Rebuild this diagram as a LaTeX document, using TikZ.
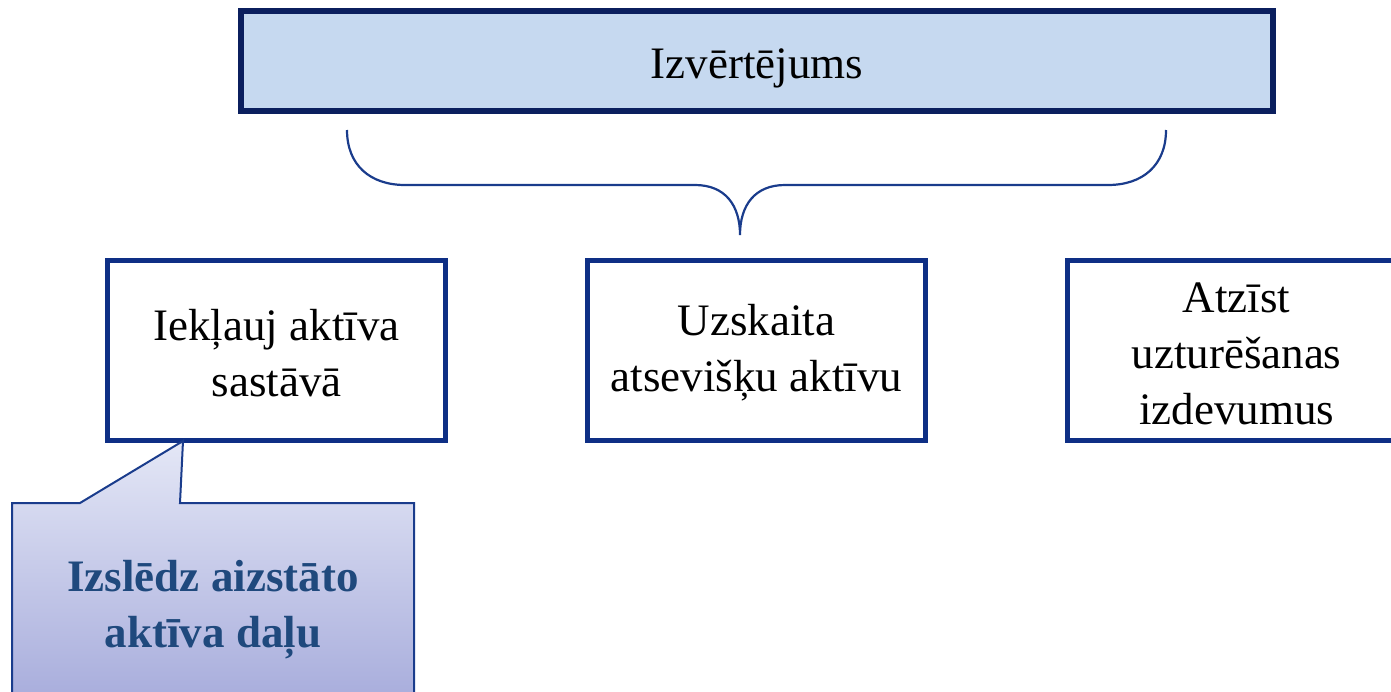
\documentclass[tikz,border=0pt]{standalone}
\usepackage{fontspec}
\setmainfont{Liberation Serif}
\definecolor{topfill}{HTML}{C6D9F0}
\definecolor{topedge}{HTML}{0B1F5E}
\definecolor{boxedge}{HTML}{0E2F85}
\definecolor{bracecol}{HTML}{1A3C8C}
\definecolor{calltop}{HTML}{E4E7F6}
\definecolor{callbot}{HTML}{A8ADDC}
\definecolor{calltext}{HTML}{1F497D}
\tikzset{
  topbox/.style={draw=topedge, fill=topfill, line width=6pt, rectangle, minimum width=1032pt, minimum height=100pt, inner sep=0pt},
  itembox/.style={draw=boxedge, fill=white, line width=5pt, rectangle, minimum width=338pt, minimum height=180pt, inner sep=0pt},
  boxtext/.style={align=center, font=\fontsize{45}{56}\selectfont, inner sep=0pt},
  bracestyle/.style={draw=bracecol, line width=2.2pt},
  callstyle/.style={draw=bracecol, line width=2pt, top color=calltop, bottom color=callbot},
  calltextstyle/.style={text=calltext, align=center, font=\bfseries\fontsize{45}{56}\selectfont, inner sep=0pt}
}
\begin{document}
\begin{tikzpicture}[x=1pt,y=-1pt]
\useasboundingbox (0,0) rectangle (1391,691);
\clip (0,0) rectangle (1391,691);
\node[topbox] (top) at (757,61) {};
\node[boxtext] (topt) at ([yshift=-7pt]top.center) {Izvērtējums};
\node[itembox] (b1) at (276.5,350) {};
\node[boxtext] (b1t) at ([yshift=-3pt]b1.center) {Iekļauj aktīva\\sastāvā};
\node[itembox] (b2) at (756.5,350) {};
\node[boxtext] (b2t) at ([yshift=-3pt]b2.center) {Uzskaita\\atsevišķu aktīvu};
\node[itembox] (b3) at (1236.5,350) {};
\node[boxtext] (b3t) at ([yshift=-4pt]b3.center) {Atzīst\\uzturēšanas\\izdevumus};
% brace
\coordinate (bl) at (347,130);
\coordinate (br) at (1166,130);
\coordinate (bt) at (740,235);
\draw[bracestyle] (bl) .. controls (347,165) and (370,185) .. (405,185)
  -- (695,185) .. controls (725,185) and (740,205) .. (bt)
  .. controls (740,205) and (755,185) .. (785,185)
  -- (1108,185) .. controls (1143,185) and (1166,165) .. (br);
% callout
\coordinate (tip) at (183,441);
\path[callstyle] (12,700) -- (12,503) -- (80,503) -- (tip) -- (180,503) -- (414,503) -- (414,700);
\node[calltextstyle] (call) at (213,610) {Izslēdz aizstāto\\aktīva daļu};
\end{tikzpicture}
\end{document}
